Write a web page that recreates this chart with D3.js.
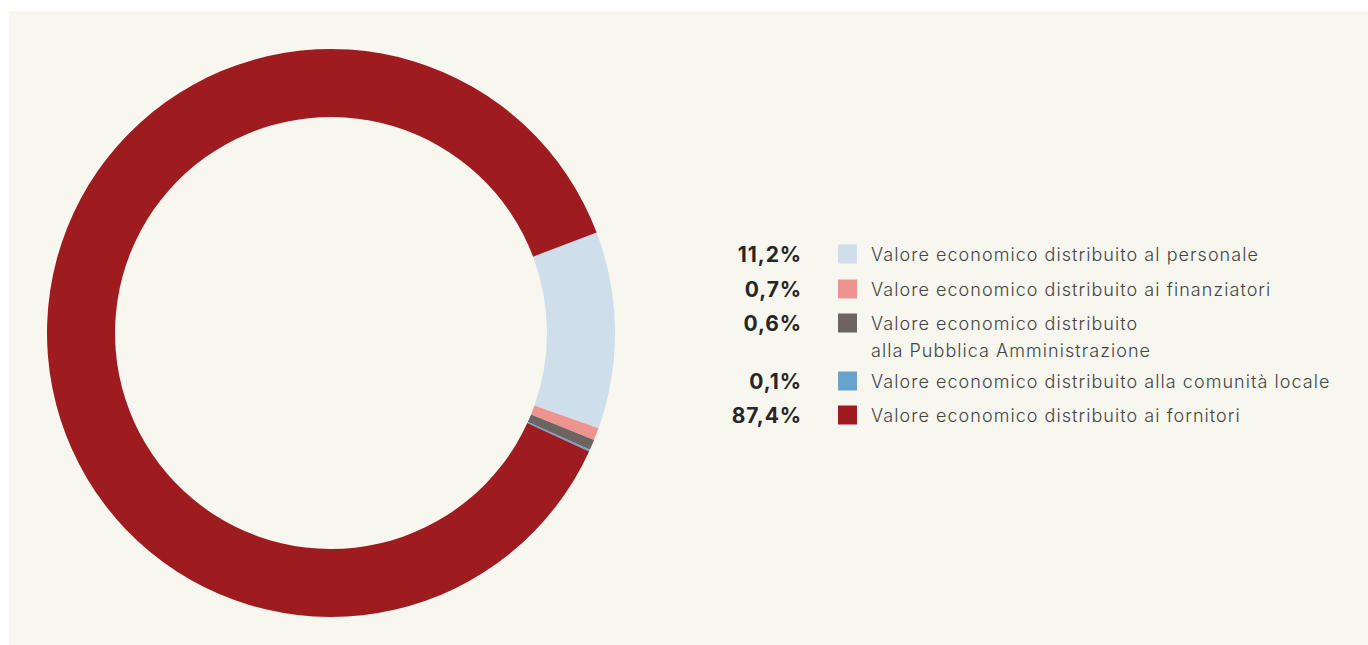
<!DOCTYPE html>
<html>
<head>
<meta charset="utf-8">
<script src="https://cdn.jsdelivr.net/npm/d3@7"></script>
<style>
  html, body { margin: 0; padding: 0; background: #ffffff; }
  svg { display: block; }
</style>
</head>
<body>
<svg id="chart" width="1368" height="645"></svg>
<script>
// Distribuzione del valore economico
const categories = [
  "Valore economico distribuito al personale",
  "Valore economico distribuito ai finanziatori",
  "Valore economico distribuito\nalla Pubblica Amministrazione",
  "Valore economico distribuito alla comunità locale",
  "Valore economico distribuito ai fornitori"
];
const shares = [11.2, 0.7, 0.6, 0.1, 87.4];
const shareLabels = ["11,2%", "0,7%", "0,6%", "0,1%", "87,4%"];
const colors = ["#cfdeeb", "#ee9490", "#6b6461", "#68a3cf", "#9e1b20"];

const svg = d3.select("#chart");
const W = 1368, H = 645;

// panel background
svg.append("rect")
  .attr("x", 9).attr("y", 11)
  .attr("width", W - 9).attr("height", H - 11)
  .attr("fill", "#f7f6ef");

// donut
const cx = 331, cy = 333, rOuter = 284, rInner = 216;
const startDeg = 69.3;
const pie = d3.pie()
  .sort(null)
  .value(d => d)
  .startAngle(startDeg * Math.PI / 180)
  .endAngle((startDeg + 360) * Math.PI / 180);
const arc = d3.arc().innerRadius(rInner).outerRadius(rOuter);

svg.append("g")
  .attr("transform", `translate(${cx},${cy})`)
  .selectAll("path")
  .data(pie(shares))
  .join("path")
  .attr("d", arc)
  .attr("fill", (d, i) => colors[i]);

// legend
const rowY = [255, 290, 324, 382, 416];
const legend = svg.append("g");
const rows = legend.selectAll("g")
  .data(categories)
  .join("g")
  .attr("transform", (d, i) => `translate(0,${rowY[i]})`);

rows.append("text")
  .attr("x", 802)
  .attr("y", 0)
  .attr("dy", "0.35em")
  .attr("text-anchor", "end")
  .attr("font-family", "Inter, 'Noto Sans', sans-serif")
  .attr("font-weight", 700)
  .attr("font-size", 21)
  .attr("letter-spacing", "0.9")
  .attr("fill", "#262626")
  .text((d, i) => shareLabels[i]);

rows.append("rect")
  .attr("x", 838).attr("y", -10.5)
  .attr("width", 19).attr("height", 19)
  .attr("fill", (d, i) => colors[i]);

rows.append("text")
  .attr("x", 871)
  .attr("y", 0)
  .attr("font-family", "Inter, 'Noto Sans', sans-serif")
  .attr("font-weight", 300)
  .attr("font-size", 18)
  .attr("letter-spacing", "1.05")
  .attr("fill", "#444444")
  .each(function(d) {
    const lines = d.split("\n");
    d3.select(this).selectAll("tspan")
      .data(lines)
      .join("tspan")
      .attr("x", 871)
      .attr("dy", (l, j) => j === 0 ? "0.35em" : "27px")
      .text(l => l);
  });
</script>
</body>
</html>
